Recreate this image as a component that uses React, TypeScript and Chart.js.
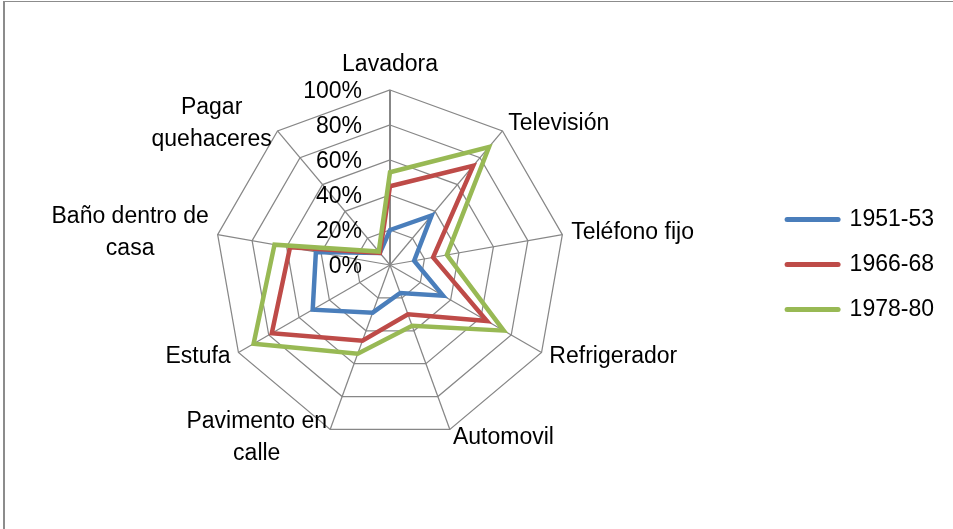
import React, { useEffect, useRef } from 'react';
import { Chart, registerables } from 'chart.js';

Chart.register(...registerables);

// ---- data ----
const categories: string[][] = [
  ['Lavadora'],
  ['Televisión'],
  ['Teléfono fijo'],
  ['Refrigerador'],
  ['Automovil'],
  ['Pavimento en', 'calle'],
  ['Estufa'],
  ['Baño dentro de', 'casa'],
  ['Pagar', 'quehaceres'],
];
const seriesNames = ['1951-53', '1966-68', '1978-80'];
const values1951 = [20, 37, 14, 35, 17, 29, 51, 43, 9];
const values1966 = [45, 74, 25, 64, 30, 46, 78, 58, 9];
const values1978 = [53, 88, 33, 75, 37, 54, 90, 67, 10];
const tickMin = 0;
const tickMax = 100;
const tickStep = 20;

// ---- style ----
const colors = ['#4a7ebb', '#be4b48', '#98b954'];
const FONT = '"Liberation Sans", Arial, sans-serif';
const FONT_SIZE = 23;
const LINE_H = 32;
const CX = 390;
const CY = 265;
const RADIUS = 175;
const LABEL_PAD = 9;
const TICK_GAP = 28;
const GRID = '#878787';

const labelPlugin = {
  id: 'radarLabels',
  afterDraw(chart: any) {
    const scale = chart.scales.r;
    const ctx = chart.ctx as CanvasRenderingContext2D;
    ctx.save();
    ctx.font = `${FONT_SIZE}px ${FONT}`;
    ctx.fillStyle = '#000';
    ctx.textBaseline = 'middle';
    ctx.textAlign = 'right';
    scale.ticks.forEach((t: any) => {
      const d = scale.getDistanceFromCenterForValue(t.value);
      ctx.fillText(`${t.value}%`, scale.xCenter - TICK_GAP, scale.yCenter - d + 2);
    });
    const labels = chart.data.labels as any[];
    labels.forEach((lab, i) => {
      const lines: string[] = Array.isArray(lab) ? lab : [String(lab)];
      const pos = scale.getPointPosition(i, scale.drawingArea + LABEL_PAD);
      const angle = scale.getIndexAngle(i);
      const s = Math.sin(angle);
      const c = Math.cos(angle);
      const bw = Math.max(...lines.map((l) => ctx.measureText(l).width));
      const bh = lines.length * LINE_H;
      let cx = pos.x;
      if (Math.abs(s) >= 0.05) cx = s > 0 ? pos.x + bw / 2 : pos.x - bw / 2;
      let cy = pos.y;
      if (c > 0.95) cy = pos.y - bh / 2;
      else if (c < -0.95) cy = pos.y + bh / 2;
      ctx.textAlign = 'center';
      lines.forEach((l, k) => {
        ctx.fillText(l, cx, cy - bh / 2 + LINE_H / 2 + k * LINE_H);
      });
    });
    ctx.restore();
  },
};

export default function App() {
  const ref = useRef<HTMLCanvasElement | null>(null);

  useEffect(() => {
    if (!ref.current) return;
    const seriesValues = [values1951, values1966, values1978];
    const chart = new Chart(ref.current, {
      type: 'radar',
      data: {
        labels: categories,
        datasets: seriesNames.map((name, i) => ({
          label: name,
          data: seriesValues[i],
          borderColor: colors[i],
          backgroundColor: colors[i],
          borderWidth: 4.5,
          fill: false,
          pointRadius: 0,
          pointHoverRadius: 0,
          tension: 0,
          order: 3 - i,
        })),
      },
      options: {
        responsive: false,
        animation: false,
        layout: { padding: { left: 0, right: 9, top: 0, bottom: 0 } },
        scales: {
          r: {
            min: tickMin,
            max: tickMax,
            ticks: { stepSize: tickStep, display: false },
            grid: { color: GRID, lineWidth: 1.25, circular: false },
            angleLines: {
              display: true,
              color: GRID,
              lineWidth: (ctx: any) => (ctx.index === 0 ? 2 : 1.25),
            },
            pointLabels: { display: false },
            afterFit: (scale: any) => {
              scale.xCenter = CX;
              scale.yCenter = CY;
              scale.drawingArea = RADIUS;
            },
          } as any,
        },
        plugins: {
          legend: {
            position: 'right',
            labels: {
              font: { family: FONT, size: FONT_SIZE },
              color: '#000',
              usePointStyle: true,
              pointStyle: 'line',
              pointStyleWidth: 51,
              padding: 22,
              sort: (a: any, b: any) => a.datasetIndex - b.datasetIndex,
              generateLabels: (c: any) =>
                Chart.defaults.plugins.legend.labels.generateLabels(c).map((it: any) => ({
                  ...it,
                  lineCap: 'round',
                  lineWidth: 5,
                  strokeStyle: colors[it.datasetIndex],
                  fillStyle: colors[it.datasetIndex],
                })),
            },
          },
          tooltip: { enabled: false },
        },
      },
      plugins: [labelPlugin],
    });
    return () => chart.destroy();
  }, []);

  return (
    <div style={{ position: 'absolute', left: 0, top: 0, width: 953, height: 529, background: '#fff' }}>
      <canvas ref={ref} width={953} height={529} style={{ display: 'block' }} />
      <div
        style={{
          position: 'absolute',
          left: 3,
          top: 1,
          width: 960,
          height: 600,
          borderTop: '1px solid #8c8c8c',
          borderLeft: '2px solid #8c8c8c',
          pointerEvents: 'none',
        }}
      />
    </div>
  );
}
